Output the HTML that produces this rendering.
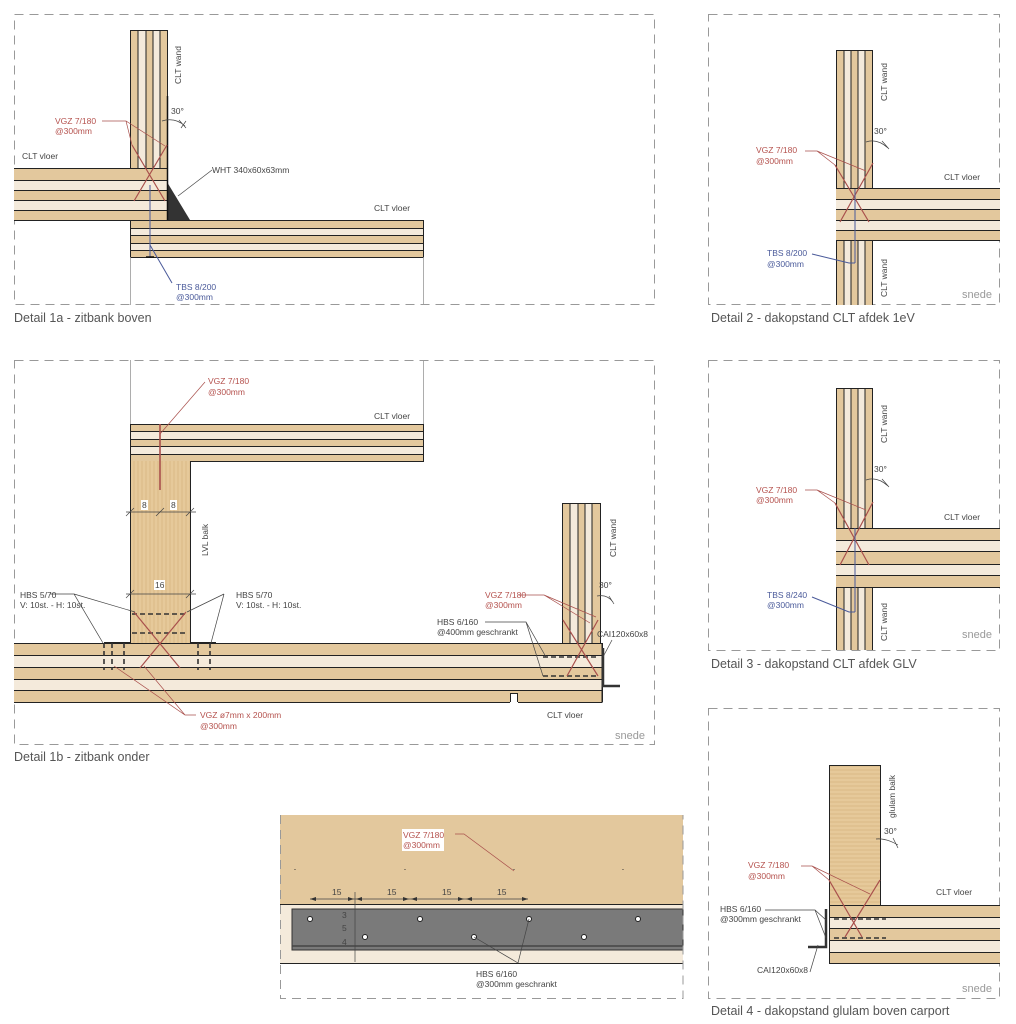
<!DOCTYPE html>
<html><head><meta charset="utf-8"><style>
body{margin:0;background:#fff}
svg{display:block;font-family:"Liberation Sans",sans-serif}
.l{font-size:8.5px;fill:#444}
.r{font-size:8.5px;fill:#b5524e}
.b{font-size:8.5px;fill:#4a5a9a}
.c{font-size:12.5px;fill:#555}
.s{font-size:11px;fill:#999}
.fr{fill:none;stroke:#999;stroke-width:1;stroke-dasharray:9,6}
.d{fill:#e3c89d}.w{fill:#f4eadb}
.k{stroke:#222;stroke-width:1;fill:none}
.rl{stroke:#a9504c;stroke-width:1.2;fill:none}
.tl{stroke:#a9504c;stroke-width:.7;fill:none}
.bl{stroke:#4a5a9a;stroke-width:1;fill:none}
.gl{stroke:#444;stroke-width:.7;fill:none}
.ds{stroke:#333;stroke-width:1.6;stroke-dasharray:5,3;fill:none}
</style></head><body>
<svg width="1016" height="1024" viewBox="0 0 1016 1024">
<defs>
<pattern id="vg" width="4" height="10" patternUnits="userSpaceOnUse"><rect width="4" height="10" fill="#e6c99a"/><line x1="2" y1="0" x2="2" y2="10" stroke="#d2ae78" stroke-width=".6"/></pattern>
<pattern id="hg" width="10" height="4" patternUnits="userSpaceOnUse"><rect width="10" height="4" fill="#e6c99a"/><line x1="0" y1="2" x2="10" y2="2" stroke="#d2ae78" stroke-width=".6"/></pattern>
</defs>

<!-- Detail 1a -->
<rect class="fr" x="14.5" y="14.5" width="640" height="290"/>
<g>
<rect class="d" x="130" y="30" width="37" height="138"/>
<rect class="w" x="138" y="30" width="8" height="138"/><rect class="w" x="153" y="30" width="7" height="138"/>
<rect class="k" x="130.5" y="30.5" width="37" height="138"/>
<path class="k" d="M138 30V168M146 30V168M153 30V168M160 30V168"/>
<rect class="d" x="14" y="168" width="153" height="52"/>
<rect class="w" x="14" y="180" width="153" height="10"/><rect class="w" x="14" y="200" width="153" height="10"/>
<path class="k" d="M14 168.5H167.5V220.5H14M14 180.5H167M14 190.5H167M14 200.5H167M14 210.5H167"/>
<rect class="d" x="130" y="220" width="293" height="37"/>
<rect class="w" x="130" y="228" width="293" height="7"/><rect class="w" x="130" y="243" width="293" height="7"/>
<rect class="k" x="130.5" y="220.5" width="293" height="37"/>
<path class="k" d="M130 228.5H423M130 235.5H423M130 243.5H423M130 250.5H423"/>
<path d="M130.5 257V305M423.5 257V305" stroke="#999" stroke-width=".8"/>
<path d="M167 182L190 220H167Z" fill="#333"/>
<path d="M167.5 96V220" stroke="#111" stroke-width="1.5"/>
<path class="gl" d="M178 196L212 170"/>
<path class="rl" d="M132 145L165 201M167 145L134 201"/>
<path class="tl" d="M102 121H126L132 145M126 121L165 146"/>
<path class="bl" d="M150 185V257M150 245L172 283"/>
<path d="M146 257H154" stroke="#111" stroke-width="1.5"/>
<path class="gl" d="M162 121Q175 117 185 126M179 120L186 128M181 128L186 121"/>
<text class="l" x="171" y="114" font-size="7">30°</text>
<text class="r" x="55" y="124">VGZ 7/180</text><text class="r" x="55" y="134">@300mm</text>
<text class="l" x="22" y="159">CLT vloer</text>
<text class="l" x="212" y="173">WHT 340x60x63mm</text>
<text class="l" x="374" y="211">CLT vloer</text>
<text class="b" x="176" y="290">TBS 8/200</text><text class="b" x="176" y="300">@300mm</text>
<text class="l" transform="translate(181,84) rotate(-90)">CLT wand</text>
<text class="c" x="14" y="322">Detail 1a - zitbank boven</text>
</g>

<!-- Detail 2 -->
<rect class="fr" x="708.5" y="14.5" width="291" height="290"/>
<g>
<rect class="d" x="836" y="50" width="36" height="255"/>
<rect class="w" x="844" y="50" width="7" height="255"/><rect class="w" x="858" y="50" width="7" height="255"/>
<path class="k" d="M836.5 50V305M872.5 50V305M836 50.5H872M844 50V305M851 50V305M858 50V305M865 50V305"/>
<rect class="d" x="836" y="188" width="164" height="52"/>
<rect class="w" x="836" y="199" width="164" height="10"/><rect class="w" x="836" y="220" width="164" height="10"/>
<path class="k" d="M836 188.5H1000M836 199.5H1000M836 209.5H1000M836 220.5H1000M836 230.5H1000M836 240.5H1000"/>
<path class="rl" d="M835 165L869 222M873 163L840 222"/>
<path class="tl" d="M805 151H817L835 165M817 151L866 171"/>
<path class="bl" d="M855 189V263M855 263H849L812 254"/>
<path class="gl" d="M866 142Q877 138 888 148M882 141L889 149"/>
<text class="l" x="874" y="134" font-size="7">30°</text>
<text class="r" x="756" y="153">VGZ 7/180</text><text class="r" x="756" y="164">@300mm</text>
<text class="l" x="944" y="180">CLT vloer</text>
<text class="b" x="767" y="256">TBS 8/200</text><text class="b" x="767" y="267">@300mm</text>
<text class="l" transform="translate(887,101) rotate(-90)">CLT wand</text>
<text class="l" transform="translate(887,297) rotate(-90)">CLT wand</text>
<text class="s" x="962" y="298">snede</text>
<text class="c" x="711" y="322">Detail 2 - dakopstand CLT afdek 1eV</text>
</g>

<!-- Detail 3 -->
<rect class="fr" x="708.5" y="360.5" width="291" height="290"/>
<g>
<rect class="d" x="836" y="388" width="36" height="262"/>
<rect class="w" x="844" y="388" width="7" height="262"/><rect class="w" x="858" y="388" width="7" height="262"/>
<path class="k" d="M836.5 388V650M872.5 388V650M836 388.5H872M844 388V650M851 388V650M858 388V650M865 388V650"/>
<rect class="d" x="836" y="528" width="164" height="59"/>
<rect class="w" x="836" y="540" width="164" height="11"/><rect class="w" x="836" y="564" width="164" height="11"/>
<path class="k" d="M836 528.5H1000M836 540.5H1000M836 551.5H1000M836 564.5H1000M836 575.5H1000M836 587.5H1000"/>
<path class="rl" d="M835 503L869 565M873 502L840 565"/>
<path class="tl" d="M805 490H817L835 503M817 490L866 510"/>
<path class="bl" d="M855 528V612M855 612H849L812 597"/>
<path class="gl" d="M866 480Q877 476 888 486M882 479L889 487"/>
<text class="l" x="874" y="472" font-size="7">30°</text>
<text class="r" x="756" y="493">VGZ 7/180</text><text class="r" x="756" y="503">@300mm</text>
<text class="l" x="944" y="520">CLT vloer</text>
<text class="b" x="767" y="598">TBS 8/240</text><text class="b" x="767" y="608">@300mm</text>
<text class="l" transform="translate(887,443) rotate(-90)">CLT wand</text>
<text class="l" transform="translate(887,641) rotate(-90)">CLT wand</text>
<text class="s" x="962" y="638">snede</text>
<text class="c" x="711" y="668">Detail 3 - dakopstand CLT afdek GLV</text>
</g>

<!-- Detail 4 -->
<rect class="fr" x="708.5" y="708.5" width="291" height="290"/>
<g>
<rect x="829" y="765" width="51" height="140" fill="url(#hg)"/>
<rect class="k" x="829.5" y="765.5" width="51" height="140"/>
<rect class="d" x="829" y="905" width="171" height="58"/>
<rect class="w" x="829" y="917" width="171" height="11"/><rect class="w" x="829" y="940" width="171" height="12"/>
<path class="k" d="M829 905.5H1000M829 917.5H1000M829 928.5H1000M829 940.5H1000M829 952.5H1000M829 963.5H1000M829.5 905V963"/>
<path class="ds" d="M834 919H886M834 938H886"/>
<path d="M826 909V947H808" stroke="#333" stroke-width="2.5" fill="none"/>
<path class="rl" d="M829 880L862 937M880 880L845 937"/>
<path class="tl" d="M801 866H812L829 880M812 866L870 894"/>
<path class="gl" d="M765 910H815L826 920M815 910L826 938M818 945L810 972"/>
<path class="gl" d="M876 839Q886 838 898 845M893 838L898 848"/>
<text class="l" x="884" y="834" font-size="7">30°</text>
<text class="r" x="748" y="868">VGZ 7/180</text><text class="r" x="748" y="879">@300mm</text>
<text class="l" x="936" y="895">CLT vloer</text>
<text class="l" x="720" y="912">HBS 6/160</text><text class="l" x="720" y="922">@300mm geschrankt</text>
<text class="l" x="757" y="973">CAI120x60x8</text>
<text class="l" transform="translate(895,818) rotate(-90)">glulam balk</text>
<text class="s" x="962" y="992">snede</text>
<text class="c" x="711" y="1015">Detail 4 - dakopstand glulam boven carport</text>
</g>

<!-- Detail 1b -->
<rect class="fr" x="14.5" y="360.5" width="640" height="384"/>
<g>
<path d="M130.5 360V424M423.5 360V424" stroke="#999" stroke-width=".8"/>
<rect class="d" x="130" y="424" width="293" height="37"/>
<rect class="w" x="130" y="431" width="293" height="8"/><rect class="w" x="130" y="446" width="293" height="8"/>
<rect class="k" x="130.5" y="424.5" width="293" height="37"/>
<path class="k" d="M130 431.5H423M130 439.5H423M130 446.5H423M130 454.5H423"/>
<rect x="130" y="461" width="60" height="182" fill="url(#vg)"/>
<path class="k" d="M130.5 461V643M190.5 461V643"/>
<path d="M160 424V490" stroke="#a9504c" stroke-width="1.6"/>
<path class="tl" d="M160 434L205 382"/>
<text class="r" x="208" y="384">VGZ 7/180</text><text class="r" x="208" y="395">@300mm</text>
<text class="l" x="374" y="419">CLT vloer</text>
<path class="gl" d="M126 512H196M126 516L134 508M156 516L164 508M186 516L194 508"/>
<rect x="141" y="500" width="7" height="10" fill="#fff"/><text class="l" x="142" y="508" font-size="7">8</text>
<rect x="170" y="500" width="7" height="10" fill="#fff"/><text class="l" x="171" y="508" font-size="7">8</text>
<text class="l" transform="translate(208,556) rotate(-90)">LVL balk</text>
<path class="gl" d="M126 594H196M126 598L134 590M186 598L194 590"/>
<rect x="154" y="580" width="11" height="10" fill="#fff"/><text class="l" x="155" y="588" font-size="7">16</text>
<rect class="d" x="14" y="643" width="588" height="59"/>
<rect class="w" x="14" y="655" width="588" height="12"/><rect class="w" x="14" y="679" width="588" height="11"/>
<path class="k" d="M14 643.5H602V702.5H14M14 655.5H602M14 667.5H602M14 679.5H602M14 690.5H602M602.5 643V702"/>
<rect x="510" y="693" width="8" height="10" fill="#fff"/><path class="k" d="M510.5 702V693.5H517.5V702"/>
<path d="M104 643H130M190 643H216" stroke="#222" stroke-width="2"/>
<path class="ds" d="M104 643V670M112 643V670M124 643V670M210 643V670M198 643V670" stroke-width="1"/>
<path class="ds" d="M132 614H188M132 633H188"/>
<path class="rl" d="M134 612L180 668M186 612L140 668"/>
<path class="gl" d="M50 594H74L103 643M74 594L135 612M224 594L187 612M224 594L211 643"/>
<text class="l" x="20" y="598">HBS 5/70</text><text class="l" x="20" y="608">V: 10st. - H: 10st.</text>
<text class="l" x="236" y="598">HBS 5/70</text><text class="l" x="236" y="608">V: 10st. - H: 10st.</text>
<path class="tl" d="M196 715H185L114 666M185 715L144 666"/>
<text class="r" x="200" y="718">VGZ ø7mm x 200mm</text><text class="r" x="200" y="729">@300mm</text>
<rect class="d" x="562" y="503" width="38" height="140"/>
<rect class="w" x="570" y="503" width="8" height="140"/><rect class="w" x="585" y="503" width="7" height="140"/>
<path class="k" d="M562.5 503V643M600.5 503V643M562 503.5H600M570 503V643M578 503V643M585 503V643M592 503V643"/>
<path class="ds" d="M543 657H598M543 676H598"/>
<path class="rl" d="M563 620L598 676M598 620L567 676"/>
<path class="tl" d="M519 595H544L590 623M544 595L596 617"/>
<path class="gl" d="M485 622H526L546 657M526 622L543 676"/>
<path d="M603 648V686H620" stroke="#333" stroke-width="2.5" fill="none"/>
<path class="gl" d="M603 657L612 640"/>
<path class="gl" d="M597 596Q607 594 613 602M609 596L614 604"/>
<text class="l" x="599" y="588" font-size="7">30°</text>
<text class="r" x="485" y="598">VGZ 7/180</text><text class="r" x="485" y="608">@300mm</text>
<text class="l" x="437" y="625">HBS 6/160</text><text class="l" x="437" y="635">@400mm geschrankt</text>
<text class="l" x="597" y="637">CAI120x60x8</text>
<text class="l" x="547" y="718">CLT vloer</text>
<text class="l" transform="translate(616,557) rotate(-90)">CLT wand</text>
<text class="s" x="615" y="739">snede</text>
<text class="c" x="14" y="761">Detail 1b - zitbank onder</text>
</g>

<!-- Plan detail -->
<g>
<rect x="280" y="815" width="403" height="89" fill="#e3c89d"/>
<rect x="280" y="904" width="403" height="59" fill="#f4eadb"/>
<path class="k" d="M280 904.5H683M280 963.5H683"/>
<rect x="292" y="909" width="391" height="41" fill="#7a7a7a" stroke="#333"/>
<path d="M292 946H683" stroke="#444" stroke-width="1.5"/>
<g fill="#fff" stroke="#222" stroke-width="1">
<circle cx="310" cy="919" r="2.5"/><circle cx="420" cy="919" r="2.5"/><circle cx="529" cy="919" r="2.5"/><circle cx="638" cy="919" r="2.5"/>
<circle cx="365" cy="937" r="2.5"/><circle cx="474" cy="937" r="2.5"/><circle cx="584" cy="937" r="2.5"/>
</g>
<g fill="#333" font-size="6"><text x="294" y="874">ˇ</text><text x="404" y="874">ˇ</text><text x="513" y="874">ˇ</text><text x="622" y="874">ˇ</text></g>
<path class="gl" d="M310 899H528M355 892V962" stroke-width="1"/>
<g fill="#333"><path d="M310 899l6-2v4zM354 899l-6-2v4zM356 899l6-2v4zM409 899l-6-2v4zM411 899l6-2v4zM464 899l-6-2v4zM466 899l6-2v4zM528 899l-6-2v4z"/></g>
<text class="l" x="332" y="895">15</text><text class="l" x="387" y="895">15</text><text class="l" x="442" y="895">15</text><text class="l" x="497" y="895">15</text>
<text class="l" x="342" y="918" font-size="6" fill="#bbb">3</text><text class="l" x="342" y="931" font-size="6" fill="#bbb">5</text><text class="l" x="342" y="945" font-size="6" fill="#bbb">4</text>
<rect x="402" y="829" width="42" height="22" fill="#fff"/>
<text class="r" x="403" y="838">VGZ 7/180</text><text class="r" x="403" y="848">@300mm</text>
<path class="tl" d="M455 834H464L514 871"/>
<path class="gl" d="M474 937L518 963L529 919"/>
<text class="l" x="476" y="977">HBS 6/160</text><text class="l" x="476" y="987">@300mm geschrankt</text>
<path class="fr" d="M280.5 815V998.5H683V815"/>
</g>
</svg>
</body></html>
